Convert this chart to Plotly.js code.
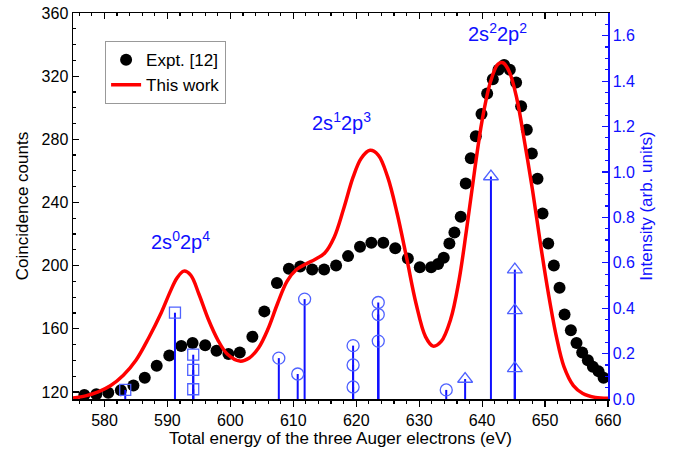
<!DOCTYPE html>
<html><head><meta charset="utf-8">
<script src="https://cdn.plot.ly/plotly-3.0.1.min.js"></script>
<style>html,body{margin:0;padding:0;background:#fff}#chart{width:674px;height:450px}</style>
</head><body><div id="chart"></div>
<script>
// Experimental coincidence counts (Expt. [12])
const exptEnergy = [576.8,578.7,580.6,582.6,584.6,586.4,588.3,590.3,592.2,594.0,596.0,597.8,599.7,601.5,603.5,605.4,607.4,609.3,611.1,613.0,614.9,616.8,618.7,620.6,622.4,624.3,626.2,628.2,630.1,631.9,633.0,633.9,634.8,635.6,636.6,637.4,638.2,639.0,639.9,640.8,641.7,642.6,643.5,644.4,645.4,646.2,647.1,647.9,648.8,649.6,650.5,651.4,652.3,653.1,654.1,655.0,655.9,656.8,657.6,658.5,659.3];
const exptCounts = [118,118.5,119.5,121,124,129,136.5,143,149,151,149.5,146,144,145,155,171,189,198,199.5,197.5,197.5,200,206,212,214.5,214.5,211,204.5,199,199,201,205,214,221,231,252,268,282,296,309,318,324,327,324,316,301,286,271,255,233,214,200,186,169,159,151,145,140,136,133,129];

// Theoretical curve (This work)
const theoryEnergy = [575,577,579,581,583,585,587,589,590.5,591.5,592.6,593.7,595,596.5,598,599.5,601.5,603,604.5,606,607.5,609,610.5,612,613.5,615,616.5,618,619.5,620.8,622.2,623.5,625,626.5,628,629.5,631,632.2,633.5,635,636.3,637.5,638.8,640,641.3,642.5,643.3,644.3,645.5,646.8,648,649.3,650.5,651.8,653,654.5,656,658,660];
const theoryCounts = [116.2,117.5,120,124,130.5,140,154,170,184,192,196.5,194,182,166,153,144,139.5,141.5,148,160,176,190,197.5,201,204,208,218,236,256,268,273,270,256,233,205,176,155,149,152,166,190,222,260,292,316,327.5,328.5,323,306,277,248,213,183,155,136,124,119,116.5,116];

// Line intensities (right axis), grouped by final configuration
const sqEnergy = [583.3,591.2,594.1,594.1,594.1];
const sqInt    = [0.04,0.38,0.195,0.128,0.043];
const ciEnergy = [607.7,610.7,611.8,619.5,619.5,619.5,623.5,623.5,623.5,634.3];
const ciInt    = [0.18,0.11,0.44,0.235,0.15,0.053,0.425,0.372,0.255,0.04];
const trEnergy = [637.3,641.4,645.2,645.2,645.2];
const trInt    = [0.088,0.98,0.57,0.39,0.135];

const labels = [
  {text:'2s<sup>0</sup>2p<sup>4</sup>', e:592.0, c:216},
  {text:'2s<sup>1</sup>2p<sup>3</sup>', e:617.6, c:291},
  {text:'2s<sup>2</sup>2p<sup>2</sup>', e:642.4, c:347.5}
];

const BLUE = '#1010ff';
const MBLUE = '#4f62ff';

function stems(E, I){
  const x=[], y=[];
  E.forEach((e,i)=>{x.push(e,e,null); y.push(0,I[i],null);});
  return {x, y};
}

const traces = [];
traces.push({x:exptEnergy, y:exptCounts, type:'scatter', mode:'markers', name:'Expt. [12]',
  marker:{color:'#000', size:12}, xaxis:'x', yaxis:'y'});
traces.push({x:theoryEnergy, y:theoryCounts, type:'scatter', mode:'lines', name:'This work',
  line:{color:'#ff0000', width:3.5, shape:'spline', smoothing:1}, xaxis:'x', yaxis:'y'});
[[sqEnergy,sqInt,'square-open',11],[ciEnergy,ciInt,'circle-open',12],[trEnergy,trInt,'triangle-up-open',13]].forEach(([E,I,sym,sz])=>{
  const s = stems(E,I);
  traces.push({x:s.x, y:s.y, type:'scatter', mode:'lines', showlegend:false, hoverinfo:'skip',
    line:{color:BLUE, width:2}, xaxis:'x', yaxis:'y2'});
  traces.push({x:E, y:I, type:'scatter', mode:'markers', showlegend:false,
    marker:{symbol:sym, size:sz, color:MBLUE, line:{color:MBLUE, width:1.3}}, xaxis:'x', yaxis:'y2'});
});
// invisible trace for the mirrored top axis
traces.push({x:[exptEnergy[0]], y:[exptCounts[0]], type:'scatter', mode:'markers', marker:{opacity:0}, showlegend:false, hoverinfo:'skip', xaxis:'x2', yaxis:'y'});

const tickFont = {family:'Liberation Sans, Arial, sans-serif', size:16, color:'#000'};
const layout = {
  width:674, height:450,
  margin:{l:73, r:66, t:13, b:51},
  paper_bgcolor:'#fff', plot_bgcolor:'#fff',
  font:{family:'Liberation Sans, Arial, sans-serif', color:'#000'},
  showlegend:true,
  legend:{x:0.06, y:0.927, xanchor:'left', yanchor:'top', bgcolor:'#fff', bordercolor:'#999', borderwidth:1,
    font:{size:17, color:'#000'}, itemwidth:30, tracegroupgap:0},
  xaxis:{range:[575,660], tick0:0, dtick:10, ticks:'outside', ticklen:6, tickwidth:1.2, tickcolor:'#000',
    minor:{dtick:2, ticks:'outside', ticklen:3, tickcolor:'#000'},
    showline:true, linecolor:'#000', linewidth:1.5, showgrid:false, zeroline:false, tickfont:tickFont,
    title:{text:'Total energy of the three Auger electrons (eV)', font:{size:17, color:'#000'}, standoff:4}},
  xaxis2:{overlaying:'x', side:'top', matches:'x', range:[575,660], dtick:10, ticks:'inside', ticklen:6, tickwidth:1.2, tickcolor:'#000',
    minor:{dtick:2, ticks:'inside', ticklen:3, tickcolor:'#000'},
    showticklabels:false, showline:true, linecolor:'#000', linewidth:1.5, showgrid:false, zeroline:false},
  yaxis:{range:[115.5,360], tick0:0, dtick:40, ticks:'inside', ticklen:6, tickwidth:1.2, tickcolor:'#000',
    minor:{dtick:10, ticks:'inside', ticklen:3, tickcolor:'#000'},
    showline:true, linecolor:'#000', linewidth:1.5, showgrid:false, zeroline:false, tickfont:tickFont,
    title:{text:'Coincidence counts', font:{size:17, color:'#000'}, standoff:8}},
  yaxis2:{overlaying:'y', side:'right', range:[0,1.7], tick0:0, dtick:0.2, tickformat:'.1f', ticks:'inside', ticklen:6, tickwidth:1.2, tickcolor:BLUE,
    minor:{dtick:0.05, ticks:'inside', ticklen:3, tickcolor:BLUE},
    showline:true, linecolor:BLUE, linewidth:1.5, showgrid:false, zeroline:false,
    tickfont:{family:'Liberation Sans, Arial, sans-serif', size:16, color:BLUE},
    title:{text:'Intensity (arb. units)', font:{size:17, color:BLUE}, standoff:6}},
  annotations: labels.map(l=>({x:l.e, y:l.c, xref:'x', yref:'y', text:l.text, showarrow:false,
    font:{size:20, color:BLUE, family:'Liberation Sans, Arial, sans-serif'}}))
};

Plotly.newPlot('chart', traces, layout, {displayModeBar:false, staticPlot:true});
</script></body></html>
